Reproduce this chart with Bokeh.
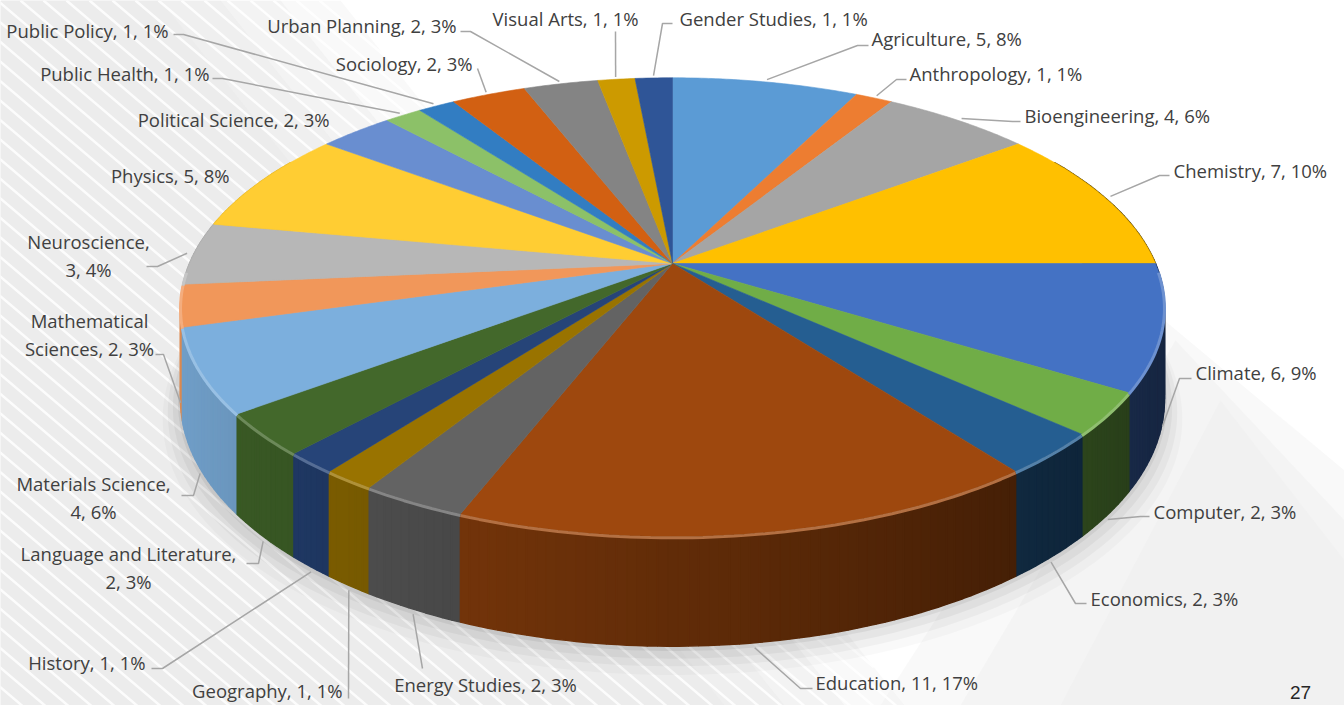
import numpy as np
from bokeh.plotting import figure
from bokeh.models import Range1d
from bokeh.embed import file_html
from bokeh.resources import INLINE
from bokeh.core.properties import value

# ---------------- data ----------------
categories = ["Agriculture", "Anthropology", "Bioengineering", "Chemistry", "Climate",
              "Computer", "Economics", "Education", "Energy Studies", "Geography",
              "History", "Language and Literature", "Materials Science",
              "Mathematical Sciences", "Neuroscience", "Physics", "Political Science",
              "Public Health", "Public Policy", "Sociology", "Urban Planning",
              "Visual Arts", "Gender Studies"]
counts = [5, 1, 4, 7, 6, 2, 2, 11, 2, 1, 1, 2, 4, 2, 3, 5, 2, 1, 1, 2, 2, 1, 1]
percents = [8, 1, 6, 10, 9, 3, 3, 17, 3, 1, 1, 3, 6, 3, 4, 8, 3, 1, 1, 3, 3, 1, 1]
colors = ["#5B9BD5", "#ED7D31", "#A5A5A5", "#FFC000", "#4472C4", "#70AD47", "#255E91",
          "#9E480E", "#636363", "#997300", "#264478", "#43682B", "#7CAFDD", "#F1975A",
          "#B7B7B7", "#FFCD33", "#698ED0", "#8CC168", "#327DC2", "#D26012", "#848484",
          "#CC9A00", "#2F5597"]
page_number = "27"

# ---------------- layout ----------------
W, H = 1344, 705
CX, CY = 672, 263      # apex of the pie on screen
RX, RY = 483, 221      # projected radii
K = 0.19               # perspective factor
T = 89                 # thickness
FONT = "Open Sans"
FS = "18.5px"
TXT = "#404040"
LEADER = "#a6a6a6"

# label anchor, alignment, words on first line (0 = single line), leader elbow & end
label_layout = {
    "Agriculture": dict(x=871, y=38, align="left", split=0, elbow=(857, 45), end=(868, 45)),
    "Anthropology": dict(x=909, y=73, align="left", split=0, elbow=(896, 79), end=(906, 79)),
    "Bioengineering": dict(x=1024, y=115, align="left", split=0, elbow=(1012, 121), end=(1020, 121)),
    "Chemistry": dict(x=1173, y=170, align="left", split=0, elbow=(1159, 175), end=(1169, 175)),
    "Climate": dict(x=1195, y=372, align="left", split=0, elbow=(1179, 378), end=(1191, 378)),
    "Computer": dict(x=1153, y=511, align="left", split=0, elbow=(1140, 516), end=(1149, 516)),
    "Economics": dict(x=1090, y=598, align="left", split=0, elbow=(1075, 603), end=(1086, 603)),
    "Education": dict(x=815, y=682, align="left", split=0, elbow=(800, 688), end=(812, 688)),
    "Energy Studies": dict(x=485, y=684, align="center", split=0, elbow=(422, 668), end=(422, 668)),
    "Geography": dict(x=342, y=690, align="right", split=0, elbow=(348, 698), end=(348, 698)),
    "History": dict(x=145, y=662, align="right", split=0, elbow=(162, 668), end=(151, 668)),
    "Language and Literature": dict(x=128, y=553, align="center", split=3, elbow=(258, 563), end=(246, 563)),
    "Materials Science": dict(x=93, y=483, align="center", split=2, elbow=(193, 495), end=(181, 495)),
    "Mathematical Sciences": dict(x=89, y=320, align="center", split=1, elbow=(163, 354), end=(155, 354)),
    "Neuroscience": dict(x=88, y=241, align="center", split=1, elbow=(157, 266), end=(146, 266)),
    "Physics": dict(x=229, y=175, align="right", split=0, elbow=None, end=None),
    "Political Science": dict(x=329, y=119, align="right", split=0, elbow=None, end=None),
    "Public Health": dict(x=209, y=73, align="right", split=0, elbow=(222, 78), end=(212, 78)),
    "Public Policy": dict(x=168, y=30, align="right", split=0, elbow=(183, 34), end=(173, 34)),
    "Sociology": dict(x=472, y=63, align="right", split=0, elbow=(477, 68), end=(477, 68)),
    "Urban Planning": dict(x=456, y=25, align="right", split=0, elbow=(470, 31), end=(460, 31)),
    "Visual Arts": dict(x=638, y=18, align="right", split=0, elbow=(615, 31), end=(615, 31)),
    "Gender Studies": dict(x=679, y=18, align="left", split=0, elbow=(662, 23), end=(672, 23)),
}


def proj(theta, r=1.0):
    th = np.radians(theta)
    u = r * np.sin(th)
    v = r * np.cos(th)
    w = 1 + K * v
    return CX + RX * u / w, CY - RY * v / w, w


def rgb(h):
    return [int(h[i:i + 2], 16) for i in (1, 3, 5)]


def shade(h, f):
    return "#%02x%02x%02x" % tuple(int(max(0, min(255, c * f))) for c in rgb(h))


def lighten(h, a):
    return "#%02x%02x%02x" % tuple(int(c + (255 - c) * a) for c in rgb(h))


p = figure(width=W, height=H, output_backend="svg", toolbar_location=None,
           x_range=Range1d(0, W), y_range=Range1d(H, 0),
           min_border=0, outline_line_color=None)
p.axis.visible = False
p.grid.visible = False
p.background_fill_color = "#ffffff"
p.border_fill_color = "#ffffff"

# ---------------- background decoration ----------------
for off, a in [(340, 0.3), (280, 0.45), (220, 0.7), (160, 1.0)]:
    p.patch([0, off, off + 0.8 * 705, 0], [0, 0, 705, 705], fill_color="#ececec",
            fill_alpha=a, line_color=None)
for pts, a in [([(1140, 300), (1344, 470), (1344, 705), (880, 705)], 0.3),
               ([(1175, 340), (1344, 520), (1344, 705), (960, 705)], 0.35),
               ([(1220, 400), (1344, 560), (1344, 705), (1060, 705)], 0.3)]:
    p.patch([q[0] for q in pts], [q[1] for q in pts], fill_color="#ebebeb",
            fill_alpha=a, line_color=None)
sx, sy = [], []
for x0 in np.arange(-900, 420, 23):
    t_end = (340 - x0) / (1 - 0.8 * 0.85)
    t_end = min(t_end, 1000)
    if t_end <= 0:
        continue
    sx.append([x0, x0 + t_end])
    sy.append([0, 0.85 * t_end])
p.multi_line(sx, sy, line_color="#ffffff", line_width=2.5, line_alpha=0.85)

# ---------------- pie geometry ----------------
total = sum(counts)
bounds = np.concatenate([[0], np.cumsum(counts)]) / total * 360.0

# soft shadow
ang = np.linspace(0, 360, 361)
for dy, r, a in [(16, 1.035, 0.025), (11, 1.025, 0.035), (7, 1.015, 0.045), (3, 1.005, 0.06)]:
    xs_, ys_, ws_ = proj(ang, r)
    p.patch(list(xs_), list(ys_ + T / ws_ + dy), fill_color="#000000", fill_alpha=a, line_color=None)

# side strips
strips = []
for i, c in enumerate(colors):
    a0, a1 = max(bounds[i], 60), min(bounds[i + 1], 300)
    if a1 <= a0:
        continue
    edges = np.linspace(a0, a1, max(2, int(np.ceil(a1 - a0)) + 1))
    for a, b in zip(edges[:-1], edges[1:]):
        xa, ya, wa = proj(a)
        xb, yb, wb = proj(b)
        m = 0.5 * (a + b)
        u = np.sin(np.radians(m))
        v = np.cos(np.radians(m))
        f = float(np.clip(0.62 - 0.3 * u, 0.3, 0.95))
        col = shade(c, f)
        strips.append((v, [xa, xb, xb, xa], [ya, yb, yb + T / wb, ya + T / wa], col))
strips.sort(key=lambda s: -s[0])
p.patches([s[1] for s in strips], [s[2] for s in strips],
          fill_color=[s[3] for s in strips], line_color=[s[3] for s in strips], line_width=1.5)

# top faces
txs, tys = [], []
for i in range(len(counts)):
    a = np.linspace(bounds[i], bounds[i + 1], max(3, int((bounds[i + 1] - bounds[i]) * 2) + 1))
    x_, y_, _ = proj(a)
    txs.append([CX] + list(x_))
    tys.append([CY] + list(y_))
p.patches(txs, tys, fill_color=colors, line_color=colors, line_width=0.6)

# rim highlight on the front edge
rx, ry, rc = [], [], []
for i, c in enumerate(colors):
    a0, a1 = max(bounds[i], 92), min(bounds[i + 1], 268)
    if a1 <= a0:
        continue
    a = np.linspace(a0, a1, max(2, int(a1 - a0) + 1))
    x_, y_, w_ = proj(a)
    rx.append(list(x_))
    ry.append(list(y_ + 1.5))
    rc.append(lighten(c, 0.22))
p.multi_line(rx, ry, line_color=rc, line_width=3)

# ---------------- leaders ----------------
lx, ly = [], []
for i, cat in enumerate(categories):
    lay = label_layout[cat]
    if lay["elbow"] is None:
        continue
    mid = 0.5 * (bounds[i] + bounds[i + 1])
    if np.cos(np.radians(mid)) < 0:
        x0, y0, w0 = proj(mid, 1.0)
        y0 = y0 + T / w0 + 5
    else:
        x0, y0, w0 = proj(mid, 1.015)
    lx.append([float(x0), lay["elbow"][0], lay["end"][0]])
    ly.append([float(y0), lay["elbow"][1], lay["end"][1]])
p.multi_line(lx, ly, line_color=LEADER, line_width=1.5)

# ---------------- labels ----------------
groups = {"left": ([], [], []), "right": ([], [], []), "center": ([], [], [])}
for i, cat in enumerate(categories):
    lay = label_layout[cat]
    full = f"{cat}, {counts[i]}, {percents[i]}%"
    g = groups[lay["align"]]
    if lay["split"]:
        words = full.split(" ")
        l1 = " ".join(words[:lay["split"]])
        l2 = " ".join(words[lay["split"]:])
        g[0].extend([lay["x"], lay["x"]])
        g[1].extend([lay["y"], lay["y"] + 28])
        g[2].extend([l1, l2])
    else:
        g[0].append(lay["x"])
        g[1].append(lay["y"])
        g[2].append(full)
for al, (gx, gy, gt) in groups.items():
    if gx:
        p.text(gx, gy, text=gt, text_align=al, text_baseline="middle",
               text_font=value(FONT), text_font_size=FS, text_color=TXT)

p.text([1300], [698], text=[page_number], text_align="center", text_baseline="bottom",
       text_font=value("Liberation Sans"), text_font_size="19px", text_color="#262626")

open("out.html", "w").write(file_html(p, INLINE))
